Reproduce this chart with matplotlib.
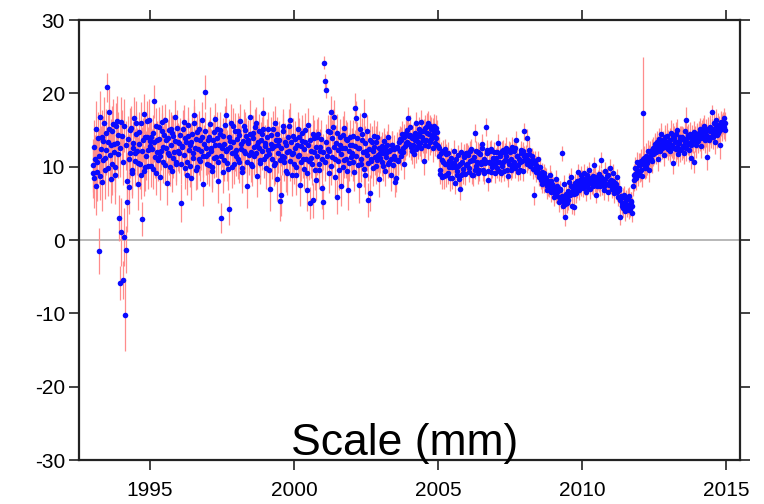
import numpy as np
import matplotlib
matplotlib.use('Agg')
import matplotlib.pyplot as plt

plt.rcParams['font.family'] = ['Liberation Sans', 'DejaVu Sans']
plt.rcParams['axes.unicode_minus'] = False

# scale time series (mm), 48 solutions per year starting 1993.0
first_year = 1993
per_year = 48

scale_mm = [
    # 1993
    10.2, 9.1, 8.5, 12.7, 11.0, 7.3, 15.1, 10.6, 9.3, 13.9, -1.5, 11.4, 16.8, 8.7, 12.4, 14.1, 7.9, 10.9, 13.5, 16.0, 11.2, 9.5, 14.6, 12.3,
    20.8, 13.4, 9.8, 15.2, 17.5, 11.6, 12.9, 8.3, 10.4, 14.8, 15.8, 12.0, 13.1, 10.0, 8.8, 15.5, 16.2, 13.2, 11.7, 14.3, 3.0, 12.5, -5.9, 16.1,
    # 1994
    1.1, 14.2, -5.5, 10.7, 0.4, 15.6, -10.2, 12.9, -1.3, 8.1, 5.2, 13.8, 7.2, 11.0, 11.8, 15.0, 15.3, 9.2, 9.6, 12.6, 13.2, 16.7, 10.8, 11.9,
    16.0, 14.4, 12.1, 7.7, 10.5, 13.1, 14.7, 10.3, 8.9, 15.9, 2.9, 12.2, 13.6, 9.4, 17.2, 14.0, 9.9, 11.5, 14.1, 16.2, 12.3, 10.1, 16.4, 13.5,
    # 1995
    12.8, 14.1, 10.1, 12.4, 14.6, 9.7, 18.9, 13.3, 11.3, 15.6, 9.2, 12.0, 13.7, 10.9, 15.4, 13.8, 8.6, 11.5, 12.2, 16.1, 14.9, 12.7, 10.7, 14.3,
    16.3, 10.2, 12.5, 13.6, 7.8, 11.8, 13.9, 15.0, 11.6, 9.9, 15.1, 12.9, 9.4, 14.6, 14.2, 11.2, 12.0, 13.5, 16.8, 10.6, 10.3, 15.3, 13.4, 12.1,
    # 1996
    11.9, 13.2, 14.3, 10.4, 5.1, 12.8, 12.7, 15.1, 16.1, 11.6, 9.8, 13.9, 13.3, 8.9, 10.6, 14.2, 15.7, 12.3, 12.9, 10.1, 8.4, 13.4, 14.5, 11.8,
    11.2, 15.9, 17.0, 12.6, 13.8, 9.6, 9.9, 14.7, 12.4, 11.1, 15.2, 13.7, 10.8, 12.2, 14.0, 16.4, 7.6, 11.4, 13.1, 14.9, 20.2, 12.5, 11.5, 10.3,
    # 1997
    13.6, 11.7, 10.2, 14.0, 15.8, 12.5, 12.1, 9.9, 9.4, 13.6, 14.7, 11.2, 16.5, 13.0, 11.3, 15.2, 13.9, 10.7, 8.1, 12.9, 15.0, 14.4, 3.0, 11.5,
    12.6, 9.3, 14.2, 13.1, 10.9, 15.7, 17.1, 12.2, 12.4, 10.5, 9.7, 14.1, 4.2, 12.7, 13.5, 16.0, 11.8, 10.0, 15.6, 13.3, 10.4, 12.0, 14.8, 11.4,
    # 1998
    12.3, 13.8, 14.9, 11.0, 10.6, 14.3, 16.2, 12.4, 13.1, 9.8, 9.3, 13.5, 15.5, 12.1, 11.8, 15.0, 14.2, 10.7, 7.4, 13.2, 13.7, 11.6, 16.8, 14.5,
    12.0, 10.3, 10.1, 13.9, 14.6, 12.7, 11.4, 15.4, 15.9, 11.9, 8.7, 13.0, 13.3, 14.8, 12.6, 10.9, 10.5, 13.6, 14.4, 12.2, 17.3, 15.1, 11.1, 12.8,
    # 1999
    13.2, 11.5, 9.8, 14.0, 15.1, 12.3, 11.7, 9.6, 6.9, 13.1, 14.3, 11.0, 12.5, 15.2, 10.2, 12.8, 16.0, 10.5, 13.6, 14.4, 8.3, 11.8, 12.9, 13.7,
    5.3, 10.9, 6.1, 12.6, 11.4, 14.8, 15.5, 11.3, 10.7, 13.4, 13.0, 9.4, 9.1, 12.0, 14.1, 15.6, 12.2, 10.8, 16.4, 13.3, 8.8, 11.7, 11.9, 14.2,
    # 2000
    10.4, 12.6, 13.8, 9.9, 8.9, 13.0, 15.2, 11.4, 11.6, 14.1, 7.5, 10.6, 12.8, 13.5, 14.6, 11.1, 9.7, 12.4, 13.3, 15.0, 11.0, 9.2, 6.8, 12.9,
    15.7, 10.8, 5.0, 13.6, 12.1, 11.2, 10.3, 14.5, 5.4, 12.0, 13.9, 9.5, 8.2, 12.7, 11.5, 14.0, 14.4, 10.4, 9.6, 12.2, 12.7, 13.8, 7.1, 11.0,
    # 2001
    5.2, 12.0, 24.2, 10.7, 21.7, 13.4, 20.5, 11.5, 12.4, 14.8, 9.1, 12.2, 14.7, 10.1, 17.5, 13.9, 11.3, 15.4, 16.8, 12.7, 8.6, 11.0, 13.2, 14.6,
    5.9, 12.3, 10.8, 9.6, 14.1, 13.0, 7.4, 11.7, 12.6, 14.3, 9.9, 10.9, 15.3, 12.5, 11.1, 13.8, 13.7, 9.4, 6.8, 12.1, 10.5, 14.0, 12.9, 11.3,
    # 2002
    11.8, 13.0, 14.2, 10.6, 9.3, 12.8, 18.0, 11.4, 16.6, 13.9, 12.5, 10.2, 7.5, 12.6, 15.1, 11.1, 10.4, 14.4, 13.6, 12.0, 17.1, 9.7, 8.9, 13.2,
    12.2, 11.6, 14.8, 10.5, 5.5, 12.4, 6.4, 13.7, 11.0, 10.8, 13.3, 12.1, 9.8, 14.2, 12.7, 11.3, 10.1, 13.4, 14.0, 10.9, 11.6, 12.5, 8.3, 11.8,
    # 2003
    11.2, 12.3, 12.8, 10.7, 10.1, 11.8, 13.5, 12.6, 9.4, 11.3, 11.9, 13.0, 14.1, 10.4, 10.6, 12.2, 12.3, 11.0, 8.8, 12.9, 13.0, 10.2, 11.5, 12.4,
    7.9, 11.1, 8.5, 12.7, 12.6, 10.8, 10.9, 13.3, 13.8, 12.1, 11.4, 13.6, 14.4, 12.5, 12.0, 14.0, 10.3, 12.8, 13.2, 14.6, 15.0, 13.4, 16.6, 14.2,
    # 2004
    13.1, 14.3, 15.4, 12.7, 12.2, 13.9, 14.0, 12.9, 11.7, 14.6, 13.6, 12.4, 15.9, 14.1, 12.8, 13.3, 14.5, 15.2, 13.2, 12.5, 16.1, 14.0, 14.8, 13.6,
    10.8, 14.9, 15.3, 13.0, 13.7, 15.6, 14.6, 12.8, 16.0, 14.4, 13.4, 15.5, 15.1, 13.8, 14.2, 15.0, 12.6, 14.5, 15.6, 13.2, 13.9, 15.3, 14.7, 12.9,
    # 2005
    12.8, 12.6, 11.4, 9.0, 9.6, 11.8, 10.9, 8.6, 12.1, 10.6, 8.7, 12.4, 10.3, 8.8, 11.7, 10.4, 9.2, 11.9, 10.8, 9.9, 8.4, 10.7, 11.2, 8.5,
    9.9, 10.5, 10.5, 12.2, 7.8, 10.0, 11.0, 8.9, 9.4, 11.6, 10.1, 8.3, 6.9, 10.3, 8.8, 12.0, 10.6, 9.2, 9.7, 11.5, 11.3, 9.0, 10.2, 11.8,
    # 2006
    10.4, 11.9, 11.6, 9.3, 9.8, 10.8, 12.2, 12.4, 10.9, 8.9, 8.9, 10.9, 11.3, 9.6, 14.6, 12.1, 10.1, 10.6, 12.0, 9.2, 9.5, 11.8, 11.7, 10.4,
    10.6, 12.5, 13.1, 9.5, 9.2, 11.0, 10.8, 10.5, 15.4, 12.3, 11.9, 9.4, 8.2, 10.7, 10.5, 12.2, 12.4, 9.3, 9.9, 11.2, 11.1, 12.0, 10.3, 9.1,
    # 2007
    11.2, 10.5, 9.8, 12.0, 13.2, 9.4, 10.6, 11.4, 11.8, 9.2, 10.1, 12.1, 12.3, 10.7, 9.4, 11.9, 10.9, 12.6, 11.5, 9.5, 8.7, 10.8, 10.4, 12.3,
    12.0, 9.6, 11.1, 12.7, 9.9, 10.4, 10.7, 12.2, 12.6, 9.8, 13.6, 11.5, 11.4, 9.3, 10.2, 11.0, 9.6, 10.6, 11.8, 12.3, 10.8, 9.4, 12.1, 11.4,
    # 2008
    14.8, 10.9, 11.6, 11.3, 13.9, 10.4, 10.9, 11.7, 12.3, 10.1, 10.2, 10.8, 11.4, 10.5, 9.7, 10.9, 6.1, 9.8, 10.8, 10.2, 9.3, 9.5, 11.0, 9.9,
    8.6, 9.0, 9.9, 8.7, 8.2, 9.3, 7.6, 8.4, 9.1, 7.8, 7.9, 8.6, 8.5, 7.4, 6.8, 8.0, 7.3, 7.1, 8.8, 7.6, 6.5, 8.1, 7.7, 6.9,
    # 2009
    7.4, 6.5, 5.9, 7.0, 8.3, 6.2, 6.6, 7.3, 7.1, 5.8, 5.2, 6.9, 6.8, 5.5, 11.8, 6.0, 4.6, 5.3, 7.6, 4.9, 3.2, 5.7, 6.3, 5.0,
    5.5, 6.7, 7.9, 6.2, 6.1, 7.4, 8.6, 6.6, 4.6, 7.1, 4.5, 6.3, 7.2, 7.8, 6.4, 7.0, 8.1, 7.6, 9.3, 6.8, 7.5, 8.2, 8.8, 7.2,
    # 2010
    8.4, 7.8, 7.1, 8.3, 9.2, 7.5, 6.5, 8.0, 8.8, 7.2, 7.7, 8.5, 9.6, 7.9, 6.9, 8.2, 8.1, 7.6, 7.4, 8.7, 10.2, 7.7, 8.6, 8.1,
    6.2, 7.4, 7.9, 8.4, 9.0, 7.8, 7.3, 8.6, 10.9, 7.5, 8.3, 8.0, 6.8, 7.3, 9.4, 8.3, 7.6, 7.7, 8.7, 8.9, 6.6, 7.5, 9.8, 8.1,
    # 2011
    8.2, 7.5, 7.0, 8.0, 9.1, 7.3, 6.4, 7.8, 7.7, 6.9, 8.6, 6.5, 5.9, 7.1, 6.8, 5.4, 3.2, 6.0, 5.1, 4.7, 4.4, 5.8, 6.2, 5.0,
    3.9, 5.5, 5.6, 4.5, 4.8, 5.9, 6.0, 4.1, 4.2, 5.2, 5.3, 4.6, 3.7, 7.4, 8.9, 8.2, 9.8, 9.0, 8.4, 9.6, 10.6, 8.8, 9.3, 10.2,
    # 2012
    9.4, 10.2, 10.8, 9.6, 8.7, 11.0, 17.3, 10.4, 11.2, 9.8, 9.9, 11.5, 10.5, 10.9, 12.1, 11.3, 9.6, 12.0, 11.4, 11.1, 10.8, 12.3, 12.6, 11.7,
    11.9, 12.8, 13.1, 12.0, 12.4, 13.4, 11.0, 12.6, 13.8, 12.9, 12.2, 13.6, 14.5, 12.5, 12.9, 13.3, 11.6, 12.7, 13.5, 14.0, 12.7, 13.1, 14.2, 12.4,
    # 2013
    13.4, 12.9, 12.1, 13.7, 14.6, 13.0, 12.8, 14.2, 10.5, 12.6, 13.9, 13.3, 12.4, 14.5, 15.0, 12.7, 11.7, 13.5, 13.2, 12.3, 14.1, 13.8, 12.6, 14.0,
    13.8, 12.8, 11.9, 13.4, 14.9, 12.5, 16.4, 13.9, 13.1, 14.3, 12.3, 13.2, 14.4, 12.9, 11.2, 14.1, 13.6, 13.5, 10.6, 14.7, 14.0, 13.6, 12.9, 14.4,
    # 2014
    14.2, 13.8, 13.5, 14.6, 15.1, 13.9, 12.8, 14.4, 14.7, 15.0, 13.9, 14.1, 15.6, 13.6, 14.3, 14.9, 11.3, 14.2, 15.2, 13.8, 13.7, 15.4, 14.8, 14.0,
    17.5, 15.1, 14.0, 14.5, 15.9, 14.8, 13.4, 15.5, 16.3, 14.3, 14.6, 15.7, 15.3, 14.9, 13.0, 15.8, 16.1, 15.2, 15.6, 16.0, 16.6, 15.4, 15.0, 15.9,
]

scale_err = [
    # 1993
    3.6, 3.4, 4.1, 3.7, 3.3, 3.9, 3.8, 3.2, 4.0, 3.5, 3.1, 3.8, 3.5, 3.3, 3.2, 3.6, 3.9, 3.1, 3.4, 3.5, 3.7, 3.9, 3.3, 3.4,
    2.0, 3.6, 3.8, 3.2, 3.1, 3.7, 3.6, 3.3, 4.2, 3.5, 3.4, 3.8, 3.0, 3.4, 3.9, 3.2, 3.5, 3.6, 3.3, 3.1, 3.2, 3.9, 2.3, 3.4,
    # 1994
    4.6, 3.5, 2.6, 3.2, 4.0, 3.6, 5.0, 3.3, 3.2, 3.8, 4.1, 3.1, 3.7, 3.4, 3.3, 3.0, 3.0, 3.5, 3.5, 3.2, 3.0, 2.8, 3.4, 3.3,
    2.9, 3.0, 3.2, 3.6, 3.5, 3.1, 2.8, 3.3, 3.3, 2.9, 2.3, 3.2, 3.0, 3.4, 2.7, 3.0, 3.2, 3.3, 2.9, 2.8, 3.1, 3.2, 2.8, 3.0,
    # 1995
    2.6, 2.5, 2.9, 2.7, 2.4, 2.8, 2.2, 2.6, 2.8, 2.4, 3.0, 2.7, 2.5, 2.9, 2.7, 2.5, 3.1, 2.6, 2.6, 2.3, 2.4, 2.8, 2.9, 2.5,
    2.3, 2.7, 2.6, 2.4, 3.0, 2.6, 2.5, 2.9, 2.8, 2.5, 2.4, 2.7, 2.9, 2.4, 2.6, 2.8, 2.7, 2.5, 2.3, 2.6, 2.8, 2.4, 2.5, 2.7,
    # 1996
    2.7, 2.5, 2.4, 2.8, 2.6, 2.4, 2.8, 2.6, 2.3, 2.7, 2.9, 2.5, 2.5, 2.8, 2.7, 2.4, 2.4, 2.6, 2.6, 2.9, 3.0, 2.5, 2.5, 2.7,
    2.8, 2.4, 2.2, 2.6, 2.6, 2.8, 2.9, 2.5, 2.7, 2.3, 2.4, 2.6, 2.8, 2.7, 2.5, 2.4, 3.0, 2.8, 2.6, 2.5, 2.3, 2.7, 2.7, 2.6,
    # 1997
    2.5, 2.7, 2.8, 2.4, 2.3, 2.6, 2.6, 2.8, 2.9, 2.5, 2.4, 2.7, 2.2, 2.6, 2.7, 2.3, 2.5, 2.8, 3.0, 2.6, 2.4, 2.5, 2.0, 2.7,
    2.6, 2.9, 2.5, 2.4, 2.8, 2.6, 2.3, 2.7, 2.6, 2.5, 2.9, 2.4, 2.2, 2.8, 2.5, 2.6, 2.7, 2.9, 2.4, 2.5, 2.8, 2.6, 2.5, 2.7,
    # 1998
    2.6, 2.5, 2.4, 2.7, 2.8, 2.6, 2.3, 2.8, 2.5, 2.4, 2.9, 2.6, 2.4, 2.7, 2.7, 2.5, 2.5, 2.3, 3.0, 2.6, 2.6, 2.8, 2.3, 2.5,
    2.7, 2.4, 2.8, 2.6, 2.4, 2.7, 2.6, 2.5, 2.3, 2.8, 2.9, 2.6, 2.5, 2.4, 2.6, 2.7, 2.8, 2.5, 2.4, 2.6, 2.2, 2.8, 2.7, 2.5,
    # 1999
    2.5, 2.7, 2.8, 2.5, 2.4, 2.6, 2.6, 2.9, 2.9, 2.5, 2.5, 2.7, 2.7, 2.4, 2.8, 2.6, 2.3, 2.8, 2.5, 2.4, 3.0, 2.6, 2.6, 2.5,
    2.7, 2.8, 2.8, 2.5, 2.6, 2.4, 2.4, 2.7, 2.7, 2.6, 2.5, 2.8, 2.9, 2.5, 2.4, 2.3, 2.6, 2.7, 2.3, 2.5, 2.8, 2.6, 2.6, 2.4,
    # 2000
    2.7, 2.5, 2.4, 2.6, 2.8, 2.4, 2.3, 2.7, 2.6, 2.5, 2.9, 2.6, 2.5, 2.8, 2.4, 2.6, 2.7, 2.4, 2.5, 2.3, 2.6, 2.7, 2.9, 2.5,
    2.3, 2.6, 2.2, 2.4, 2.6, 2.8, 2.8, 2.5, 2.4, 2.6, 2.5, 2.7, 2.8, 2.4, 2.6, 2.5, 2.4, 2.7, 2.7, 2.4, 2.5, 2.6, 2.9, 2.5,
    # 2001
    2.4, 2.5, 0.9, 2.6, 1.0, 2.4, 1.1, 2.7, 2.5, 2.3, 2.7, 2.5, 2.4, 2.6, 2.2, 2.4, 2.6, 2.5, 2.3, 2.7, 2.8, 2.4, 2.5, 2.6,
    2.3, 2.5, 2.6, 2.8, 2.4, 2.5, 2.8, 2.3, 2.5, 2.6, 2.7, 2.4, 2.3, 2.6, 2.6, 2.5, 2.4, 2.7, 2.7, 2.5, 2.5, 2.4, 2.4, 2.6,
    # 2002
    2.4, 2.3, 2.2, 2.5, 2.6, 2.2, 2.1, 2.4, 2.3, 2.2, 2.4, 2.5, 2.5, 2.3, 2.2, 2.4, 2.5, 2.2, 2.3, 2.4, 2.1, 2.5, 2.6, 2.3,
    2.4, 2.2, 2.2, 2.4, 2.3, 2.3, 2.5, 2.2, 2.4, 2.4, 2.2, 2.3, 2.5, 2.1, 2.3, 2.4, 2.4, 2.2, 2.2, 2.3, 2.3, 2.4, 2.5, 2.2,
    # 2003
    2.0, 1.9, 1.9, 2.0, 2.1, 1.8, 1.8, 1.9, 2.0, 2.1, 1.9, 1.8, 1.7, 2.0, 2.0, 1.9, 1.8, 1.8, 2.1, 1.9, 1.9, 2.0, 1.8, 1.9,
    2.0, 1.8, 1.9, 2.0, 1.8, 1.9, 2.0, 1.8, 1.7, 1.9, 1.9, 1.8, 1.8, 1.7, 1.9, 1.8, 2.0, 1.9, 1.8, 1.7, 1.7, 1.8, 1.6, 1.8,
    # 2004
    1.8, 1.7, 1.7, 1.8, 1.9, 1.7, 1.8, 1.6, 1.9, 1.8, 1.7, 1.9, 1.6, 1.7, 1.8, 1.8, 1.7, 1.6, 1.8, 1.7, 1.6, 1.8, 1.7, 1.7,
    1.9, 1.6, 1.7, 1.8, 1.8, 1.7, 1.7, 1.9, 1.6, 1.7, 1.8, 1.6, 1.7, 1.8, 1.8, 1.7, 1.9, 1.6, 1.6, 1.8, 1.8, 1.7, 1.7, 1.8,
    # 2005
    1.6, 1.5, 1.5, 1.4, 1.6, 1.5, 1.4, 1.6, 1.5, 1.5, 1.7, 1.4, 1.5, 1.6, 1.4, 1.5, 1.6, 1.4, 1.5, 1.6, 1.7, 1.5, 1.4, 1.5,
    1.5, 1.4, 1.6, 1.5, 1.5, 1.6, 1.4, 1.5, 1.6, 1.4, 1.5, 1.5, 1.5, 1.6, 1.6, 1.4, 1.4, 1.5, 1.5, 1.6, 1.4, 1.5, 1.5, 1.4,
    # 2006
    1.4, 1.3, 1.3, 1.4, 1.5, 1.3, 1.3, 1.4, 1.4, 1.3, 1.5, 1.4, 1.3, 1.3, 1.2, 1.4, 1.4, 1.3, 1.3, 1.5, 1.5, 1.3, 1.3, 1.4,
    1.4, 1.3, 1.3, 1.4, 1.5, 1.3, 1.4, 1.4, 1.2, 1.3, 1.3, 1.4, 1.5, 1.3, 1.4, 1.3, 1.3, 1.4, 1.4, 1.3, 1.3, 1.4, 1.4, 1.3,
    # 2007
    1.3, 1.3, 1.4, 1.2, 1.3, 1.4, 1.4, 1.3, 1.3, 1.3, 1.5, 1.4, 1.3, 1.2, 1.4, 1.3, 1.3, 1.4, 1.2, 1.3, 1.5, 1.3, 1.4, 1.2,
    1.3, 1.4, 1.2, 1.3, 1.4, 1.3, 1.3, 1.4, 1.2, 1.3, 1.3, 1.2, 1.4, 1.3, 1.3, 1.4, 1.4, 1.3, 1.3, 1.2, 1.4, 1.3, 1.3, 1.4,
    # 2008
    1.2, 1.3, 1.3, 1.2, 1.2, 1.3, 1.3, 1.3, 1.4, 1.2, 1.3, 1.3, 1.2, 1.4, 1.4, 1.3, 1.3, 1.2, 1.3, 1.3, 1.4, 1.2, 1.2, 1.3,
    1.3, 1.4, 1.4, 1.3, 1.3, 1.2, 1.2, 1.3, 1.3, 1.4, 1.4, 1.3, 1.3, 1.2, 1.2, 1.3, 1.3, 1.3, 1.4, 1.2, 1.3, 1.3, 1.2, 1.4,
    # 2009
    1.2, 1.3, 1.3, 1.2, 1.2, 1.2, 1.3, 1.3, 1.2, 1.3, 1.4, 1.2, 1.3, 1.3, 1.0, 1.2, 1.3, 1.3, 1.2, 1.4, 1.3, 1.2, 1.2, 1.3,
    1.4, 1.2, 1.2, 1.3, 1.3, 1.2, 1.2, 1.3, 1.1, 1.2, 1.1, 1.3, 1.2, 1.2, 1.3, 1.3, 1.2, 1.2, 1.1, 1.3, 1.2, 1.2, 1.3, 1.2,
    # 2010
    1.2, 1.2, 1.3, 1.2, 1.1, 1.3, 1.2, 1.2, 1.3, 1.1, 1.2, 1.3, 1.1, 1.2, 1.3, 1.2, 1.2, 1.3, 1.2, 1.1, 1.1, 1.2, 1.3, 1.2,
    1.2, 1.3, 1.1, 1.2, 1.2, 1.2, 1.3, 1.1, 1.1, 1.3, 1.2, 1.2, 1.3, 1.2, 1.2, 1.3, 1.1, 1.2, 1.2, 1.2, 1.3, 1.1, 1.2, 1.3,
    # 2011
    1.2, 1.2, 1.3, 1.2, 1.2, 1.3, 1.3, 1.2, 1.2, 1.3, 1.1, 1.2, 1.3, 1.2, 1.2, 1.3, 1.2, 1.2, 1.3, 1.2, 1.2, 1.3, 1.1, 1.2,
    1.3, 1.2, 1.2, 1.3, 1.3, 1.2, 1.2, 1.2, 1.1, 1.3, 1.2, 1.2, 1.3, 1.4, 1.4, 1.5, 1.5, 1.4, 1.6, 1.5, 1.4, 1.5, 1.5, 1.6,
    # 2012
    1.5, 1.6, 1.6, 1.5, 1.5, 1.6, 7.6, 1.5, 1.6, 1.5, 1.5, 1.7, 1.6, 1.5, 1.5, 1.6, 1.7, 1.5, 1.5, 1.6, 1.6, 1.5, 1.4, 1.6,
    1.6, 1.5, 1.5, 1.7, 1.7, 1.5, 1.6, 1.6, 1.5, 1.5, 1.6, 1.7, 1.4, 1.5, 1.6, 1.6, 1.5, 1.5, 1.6, 1.7, 1.5, 1.6, 1.7, 1.5,
    # 2013
    1.6, 1.5, 1.5, 1.6, 1.7, 1.5, 1.6, 1.7, 1.5, 1.6, 1.6, 1.5, 1.7, 1.6, 1.5, 1.7, 1.6, 1.5, 1.6, 1.6, 1.5, 1.7, 1.7, 1.5,
    1.6, 1.6, 1.5, 1.5, 1.6, 1.7, 1.7, 1.6, 1.5, 1.5, 1.6, 1.6, 1.7, 1.5, 1.5, 1.6, 1.6, 1.7, 1.5, 1.5, 1.6, 1.6, 1.7, 1.5,
    # 2014
    1.6, 1.5, 1.7, 1.6, 1.5, 1.7, 1.6, 1.5, 1.7, 1.6, 1.6, 1.5, 1.5, 1.7, 1.6, 1.6, 1.7, 1.5, 1.6, 1.6, 1.5, 1.7, 1.7, 1.5,
    0.9, 1.6, 1.6, 1.5, 1.5, 1.6, 1.7, 1.5, 1.6, 1.7, 1.5, 1.6, 1.6, 1.5, 1.9, 1.6, 1.5, 1.7, 1.6, 1.5, 1.4, 1.6, 1.5, 1.5,
]

year_ticks = [1995, 2000, 2005, 2010, 2015]
scale_ticks = [-30, -20, -10, 0, 10, 20, 30]

t = first_year + np.arange(len(scale_mm)) / per_year

fig = plt.figure(figsize=(7.64, 5.04), dpi=100)
ax = fig.add_axes([0.1034, 0.0873, 0.8652, 0.873])

ax.axhline(0, color='#b8b8b8', lw=1.4, zorder=1)
ax.errorbar(t, scale_mm, yerr=scale_err, fmt='o', ms=4.0,
            mfc='#0a0aff', mec='#0a0aff', mew=0,
            ecolor='#ff8c8c', elinewidth=0.9, capsize=2.2, capthick=0.9,
            zorder=3)

ax.set_xlim(1992.53, 2015.49)
ax.set_ylim(-30, 30)
ax.set_xticks(year_ticks)
ax.set_yticks(scale_ticks)

for s in ax.spines.values():
    s.set_linewidth(1.6)
    s.set_color('#222222')
ax.tick_params(direction='out', length=7, width=1.2, color='#222222',
               top=True, right=True, labelsize=15, pad=3)
ax.tick_params(axis='x', pad=8)

ax.text(0.492, 0.012, 'Scale (mm)', transform=ax.transAxes,
        ha='center', va='baseline', fontsize=32)

fig.savefig('out.png', dpi=100)
